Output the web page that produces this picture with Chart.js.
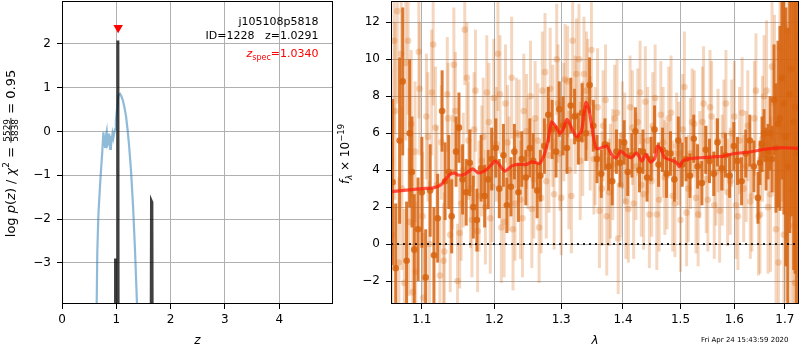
<!DOCTYPE html>
<html>
<head>
<meta charset="utf-8">
<script src="https://cdn.jsdelivr.net/npm/chart.js@4.4.0/dist/chart.umd.min.js"></script>
<style>
  body { margin: 0; background: #fff; }
  #wrap { position: relative; width: 800px; height: 350px; }
  #pz { position: absolute; left: 0; top: 0; }
  #spec { position: absolute; left: 335px; top: 0; }
</style>
</head>
<body>
<div id="wrap">
  <canvas id="pz" width="335" height="350"></canvas>
  <canvas id="spec" width="465" height="350"></canvas>
</div>
<script>
// ---- left panel: log p(z) ----
const zTicks = [0, 1, 2, 3, 4];
const logpTicks = [-3, -2, -1, 0, 1, 2];

const blueZ = [0.62, 0.639, 0.650, 0.670, 0.700, 0.720, 0.740, 0.762, 0.775, 0.792,
  0.808, 0.823, 0.838, 0.853, 0.868, 0.884, 0.900, 0.915, 0.930, 0.945,
  0.960, 0.976, 0.992, 1.007, 1.022, 1.037, 1.052, 1.068, 1.095, 1.123,
  1.150, 1.179, 1.207, 1.234, 1.271, 1.308, 1.344, 1.381, 1.40];
const blueLogP = [-6, -3.94, -2.75, -1.9, -1.24, -0.85, -0.5, -0.02, -0.2, -0.35,
  -0.1, 0.0, -0.3, -0.25, -0.05, -0.4, -0.1, -0.2, -0.05, -0.15,
  -0.05, 0.05, 0.25, 0.44, 0.62, 0.81, 0.85, 0.86, 0.8, 0.7,
  0.55, 0.35, 0.05, -0.3, -0.9, -1.7, -2.7, -3.94, -5];

const spike1Z = [0.978, 0.983, 0.988, 1.020, 1.029, 1.036];
const spike1LogP = [-8, -2.9, -8, -8, 2.08, -8];
const spike2Z = [1.635, 1.648, 1.655, 1.668];
const spike2LogP = [-8, -1.6, -1.62, -8];

const zSpec = 1.034;
const zSpecMarkY = 2.37;

// ---- right panel: spectrum ----
const lamTicks = [1.1, 1.2, 1.3, 1.4, 1.5, 1.6, 1.7];
const fluxTicks = [-2, 0, 2, 4, 6, 8, 10, 12];

const darkLam = [1.062, 1.066, 1.071, 1.075, 1.080, 1.084, 1.087, 1.090, 1.095, 1.100,
  1.105, 1.111, 1.116, 1.121, 1.127, 1.131, 1.136, 1.140, 1.146, 1.150,
  1.155, 1.160, 1.165, 1.170, 1.175, 1.181, 1.186, 1.191, 1.196, 1.202,
  1.207, 1.213, 1.218, 1.224, 1.229, 1.235, 1.240, 1.246, 1.252, 1.257,
  1.263, 1.268, 1.274, 1.280, 1.286, 1.292, 1.297, 1.303, 1.309, 1.315,
  1.321, 1.327, 1.333, 1.339, 1.345, 1.351, 1.357, 1.364, 1.370, 1.376,
  1.382, 1.389, 1.395, 1.402, 1.408, 1.415, 1.421, 1.428, 1.434, 1.441,
  1.448, 1.454, 1.461, 1.468, 1.475, 1.482, 1.489, 1.496, 1.503, 1.510,
  1.517, 1.524, 1.531, 1.539, 1.546, 1.553, 1.561, 1.568, 1.576, 1.583,
  1.591, 1.599, 1.606, 1.614, 1.622, 1.630, 1.638, 1.646, 1.654, 1.662,
  1.670, 1.678, 1.686, 1.694, 1.702, 1.710, 1.718, 1.724];
const darkFlux = [3.35, -1.3, 5.6, 8.8, -0.9, 6.0, 3.9, -0.3, 0.8, 2.8,
  -1.8, 2.9, -0.6, 1.4, 7.2, 3.4, 3.9, 1.5, 5.0, 6.3,
  3.5, 2.8, 4.4, 2.0, 1.3, 4.1, 2.6, 3.5, 4.6, 5.2,
  3.0, 4.8, 2.1, 3.1, 5.0, 2.8, 4.6, 3.6, 5.2, 4.5,
  2.9, 3.7, 5.3, 7.0, 6.2, 5.0, 7.3, 6.4, 5.2, 7.5,
  6.9, 5.7, 7.1, 6.0, 8.6, 6.4, 4.6, 3.8, 5.4, 4.2,
  3.4, 5.0, 4.4, 5.5, 3.9, 4.8, 6.1, 4.0, 5.0, 3.6,
  4.6, 6.2, 4.3, 5.1, 3.8, 4.9, 3.5, 5.6, 4.3, 4.6,
  3.7, 5.7, 4.2, 3.3, 5.1, 4.5, 3.8, 5.5, 4.1, 4.8,
  3.7, 5.3, 4.5, 3.4, 4.9, 5.6, 4.2, 2.5, 5.4, 4.6,
  6.0, 7.8, 6.5, 9.0, 5.8, 8.1, 6.6, 4.9];
const darkErr = [4.5, 3.5, 4.5, 4.0, 3.2, 4.0, 3.0, 3.0, 2.8, 3.0,
  2.6, 2.5, 2.6, 2.4, 2.2, 2.1, 2.0, 2.0, 1.9, 1.9,
  1.9, 1.8, 1.8, 1.7, 1.7, 1.8, 1.7, 1.6, 1.7, 1.6,
  1.6, 1.7, 1.5, 1.6, 1.5, 1.6, 1.5, 1.5, 1.6, 1.5,
  1.5, 1.4, 1.5, 1.5, 1.6, 1.4, 1.5, 1.6, 1.4, 1.5,
  1.5, 1.4, 1.6, 1.5, 1.5, 1.4, 1.3, 1.3, 1.4, 1.3,
  1.3, 1.2, 1.3, 1.2, 1.3, 1.2, 1.3, 1.2, 1.2, 1.3,
  1.2, 1.3, 1.2, 1.2, 1.3, 1.2, 1.2, 1.3, 1.2, 1.2,
  1.2, 1.3, 1.2, 1.2, 1.3, 1.2, 1.2, 1.3, 1.2, 1.2,
  1.2, 1.3, 1.3, 1.3, 1.3, 1.4, 1.4, 1.4, 1.5, 1.7,
  2.0, 3.0, 4.5, 5.5, 7.0, 7.5, 8.0, 9.0];

// second (dark) spectrum only covers the red end
const darkLamB = [1.650, 1.658, 1.666, 1.674, 1.682, 1.690, 1.698, 1.706, 1.714, 1.721];
const darkFluxB = [4.4, 6.0, 5.0, 4.6, 5.2, 6.8, 7.6, 4.2, 9.5, 7.4];
const darkErrB = [1.2, 1.3, 1.5, 1.8, 3.5, 5.0, 6.0, 7.5, 8.0, 9.0];

const lightLam = [1.060, 1.064, 1.068, 1.073, 1.077, 1.082, 1.086, 1.092, 1.097, 1.102,
  1.108, 1.113, 1.118, 1.124, 1.129, 1.134, 1.138, 1.143, 1.148, 1.153,
  1.158, 1.163, 1.168, 1.173, 1.178, 1.184, 1.189, 1.194, 1.199, 1.205,
  1.210, 1.216, 1.221, 1.227, 1.232, 1.238, 1.243, 1.249, 1.255, 1.260,
  1.266, 1.271, 1.277, 1.283, 1.289, 1.295, 1.300, 1.306, 1.312, 1.318,
  1.324, 1.330, 1.336, 1.342, 1.348, 1.354, 1.361, 1.367, 1.373, 1.379,
  1.386, 1.392, 1.399, 1.405, 1.412, 1.418, 1.425, 1.431, 1.438, 1.445,
  1.451, 1.458, 1.465, 1.472, 1.479, 1.486, 1.493, 1.500, 1.507, 1.514,
  1.521, 1.528, 1.535, 1.542, 1.550, 1.557, 1.565, 1.572, 1.580, 1.587,
  1.595, 1.603, 1.610, 1.618, 1.626, 1.634, 1.642, 1.650, 1.658, 1.666,
  1.674, 1.682, 1.690, 1.698, 1.706, 1.714, 1.721, 1.727];
const lightFlux = [4.5, 11.0, 12.6, 10.3, -2.1, 11.0, 6.5, -1.5, 8.4, -2.9,
  5.8, 8.2, 6.3, -1.7, -0.9, 8.1, 0.5, 9.7, -2.0, 2.2,
  11.6, 5.6, 1.3, 8.3, 2.6, 5.8, 8.2, 1.4, 7.9, 10.3,
  0.9, 7.6, 3.8, 0.8, 6.0, 2.4, 7.2, 4.9, 1.9, 6.8,
  0.9, 8.3, 3.4, 8.4, 2.7, 7.6, 2.5, 8.9, 4.0, 11.0,
  9.2, 4.5, 9.2, 7.8, 10.5, 5.3, 1.8, 6.4, 1.5, 3.4,
  6.8, 0.3, 5.9, 2.3, 7.4, 2.2, 6.6, 3.2, 7.7, 1.6,
  6.4, 1.6, 7.0, 3.6, 6.8, 2.6, 5.3, 1.3, 8.5, 3.0,
  6.6, 2.5, 4.3, 7.6, 2.4, 6.9, 3.9, 1.8, 5.9, 2.8,
  6.0, 2.1, 5.6, 3.0, 6.4, 2.6, 8.3, 1.6, 8.0, 2.0,
  9.6, 0.8, 10.6, 0.5, 11.5, 2.9, -2.1, 11.2];
const lightErr = [5.0, 5.0, 5.0, 4.5, 4.0, 4.0, 4.0, 3.8, 3.6, 3.5,
  3.5, 3.4, 3.3, 3.2, 3.1, 3.1, 3.1, 3.1, 3.1, 3.1,
  3.0, 3.2, 3.1, 3.3, 3.0, 3.2, 3.1, 3.0, 3.2, 3.1,
  3.0, 3.2, 3.1, 3.3, 3.0, 3.2, 3.1, 3.0, 3.2, 3.1,
  3.0, 3.2, 3.1, 3.3, 3.0, 3.2, 3.1, 3.0, 3.2, 3.1,
  3.0, 3.2, 3.1, 3.3, 3.0, 3.2, 3.1, 3.0, 3.2, 3.1,
  2.9, 3.0, 2.9, 3.1, 2.8, 3.0, 2.9, 2.8, 3.0, 2.9,
  2.9, 3.0, 2.9, 3.1, 2.8, 3.0, 2.9, 2.8, 3.0, 2.9,
  2.9, 3.0, 2.9, 3.1, 2.8, 3.0, 2.9, 2.8, 3.0, 2.9,
  2.9, 2.9, 2.9, 2.9, 3.0, 3.0, 3.1, 3.2, 3.3, 3.6,
  4.0, 4.5, 5.0, 6.0, 7.0, 8.0, 8.0, 8.0];

const lightLamB = [1.061, 1.065, 1.070, 1.074, 1.079, 1.083, 1.088, 1.091, 1.096, 1.101,
  1.106, 1.110, 1.115, 1.120, 1.126, 1.130, 1.135, 1.141, 1.145, 1.151,
  1.156, 1.161, 1.166, 1.171, 1.176, 1.182, 1.187, 1.192, 1.197, 1.203,
  1.208, 1.214, 1.219, 1.225, 1.230, 1.236, 1.241, 1.247, 1.253, 1.258,
  1.264, 1.269, 1.275, 1.281, 1.287, 1.293, 1.298, 1.304, 1.310, 1.316,
  1.322, 1.328, 1.334, 1.340, 1.346, 1.352, 1.358, 1.365, 1.371, 1.377,
  1.383, 1.390, 1.396, 1.403, 1.409, 1.416, 1.422, 1.429, 1.435, 1.442,
  1.449, 1.455, 1.462, 1.469, 1.476, 1.483, 1.490, 1.497, 1.504, 1.511,
  1.518, 1.525, 1.532, 1.540, 1.547, 1.554, 1.562, 1.569, 1.577, 1.584,
  1.592, 1.600, 1.607, 1.615, 1.623, 1.631, 1.639, 1.647, 1.655, 1.663,
  1.671, 1.679, 1.687, 1.695, 1.703, 1.711, 1.719, 1.725];
const lightFluxB = [0.5, 7.2, -1.0, 3.0, 9.8, 1.2, -2.6, 5.0, 10.4, 1.5,
  6.9, 0.0, 10.8, 3.2, 5.5, -0.4, 6.8, 3.9, 7.2, 0.6,
  4.0, 9.0, 3.0, 6.2, 0.7, 4.5, 2.0, 6.6, 3.1, 5.4,
  8.1, 1.2, 5.5, 9.0, 2.2, 5.9, 1.4, 6.1, 8.0, 3.5,
  5.6, 2.5, 9.3, 4.8, 6.4, 10.0, 4.9, 6.6, 8.8, 2.6,
  7.0, 10.0, 5.7, 8.3, 6.0, 4.6, 7.4, 3.0, 7.8, 2.8,
  4.3, 7.1, 3.2, 5.2, 1.9, 6.3, 4.2, 8.2, 2.7, 5.6,
  3.4, 7.9, 2.4, 5.5, 3.7, 7.1, 2.2, 4.9, 6.2, 1.7,
  4.9, 6.5, 1.6, 6.6, 3.5, 7.4, 2.1, 5.6, 4.0, 7.6,
  3.4, 6.9, 1.5, 7.1, 4.2, 2.3, 6.8, 1.5, 5.7, 8.3,
  2.7, 7.6, -1.0, 8.8, 4.4, 9.4, 1.0, 6.2];
const lightErrB = [5.0, 4.8, 4.6, 4.4, 4.2, 4.0, 3.9, 3.8, 3.6, 3.5,
  3.4, 3.4, 3.3, 3.2, 3.1, 3.2, 3.0, 3.1, 3.2, 3.0,
  3.1, 3.0, 3.2, 3.1, 3.3, 3.0, 3.1, 3.2, 3.0, 3.1,
  3.2, 3.0, 3.1, 3.3, 3.1, 3.0, 3.2, 3.1, 3.0, 3.2,
  3.1, 3.0, 3.2, 3.1, 3.3, 3.0, 3.1, 3.2, 3.0, 3.1,
  3.2, 3.0, 3.1, 3.2, 3.1, 3.0, 3.2, 3.1, 3.0, 2.9,
  3.0, 2.9, 2.8, 3.0, 2.9, 3.1, 2.9, 2.8, 3.0, 2.9,
  3.0, 2.9, 2.8, 3.0, 2.9, 3.1, 2.9, 2.8, 3.0, 2.9,
  3.0, 2.9, 2.8, 3.0, 2.9, 3.1, 2.9, 2.8, 3.0, 2.9,
  2.9, 3.0, 2.9, 3.0, 3.0, 3.1, 3.1, 3.2, 3.4, 3.8,
  4.2, 4.8, 5.5, 6.5, 7.5, 8.0, 8.0, 8.0];

const modelLam = [1.060, 1.100, 1.115, 1.126, 1.135, 1.143, 1.149, 1.158, 1.169, 1.177,
  1.189, 1.201, 1.205, 1.215, 1.225, 1.235, 1.247, 1.255, 1.262, 1.267,
  1.275, 1.280, 1.285, 1.291, 1.298, 1.303, 1.309, 1.316, 1.324, 1.332,
  1.339, 1.344, 1.351, 1.356, 1.364, 1.373, 1.381, 1.389, 1.396, 1.403,
  1.414, 1.423, 1.432, 1.439, 1.447, 1.455, 1.459, 1.465, 1.472, 1.484,
  1.493, 1.498, 1.504, 1.517, 1.535, 1.560, 1.579, 1.600, 1.630, 1.656,
  1.690, 1.729];
const modelFlux = [2.84, 3.0, 3.04, 3.22, 3.67, 3.85, 3.73, 3.78, 4.07, 3.85,
  4.04, 4.49, 4.4, 3.95, 4.22, 4.31, 4.31, 4.45, 4.4, 4.36,
  4.94, 5.66, 6.6, 6.39, 5.99, 6.21, 6.75, 6.3, 5.81, 6.12,
  7.66, 7.29, 5.85, 5.16, 5.21, 5.3, 4.85, 4.67, 5.03, 4.85,
  4.67, 4.94, 4.49, 4.85, 4.43, 4.67, 5.3, 5.16, 4.67, 4.54,
  4.4, 4.18, 4.49, 4.62, 4.67, 4.72, 4.76, 4.9, 4.98, 5.12,
  5.21, 5.18];
const zeroLam = [1.06, 1.729];
const zeroFlux = [0, 0];

const FONT = 'DejaVu Sans';
Chart.defaults.font.family = FONT;
Chart.defaults.font.size = 12;
Chart.defaults.color = '#000';

const DARK = 'rgba(215,100,15,0.85)';
const LIGHT = 'rgba(217,95,2,0.25)';

const pts = (xs, ys) => xs.map((x, i) => ({ x: x, y: ys[i] }));
const fmt = v => (v < 0 ? '\u2212' + Math.abs(v) : String(v));
const setTicks = list => scale => { scale.ticks = list.map(v => ({ value: v })); };

function drawRuns(ctx, runs, x, y, align) {
  let w = 0;
  runs.forEach(r => {
    ctx.font = r.font;
    r.w = r.frac ? Math.max(ctx.measureText(r.frac[0]).width, ctx.measureText(r.frac[1]).width) + 2 : ctx.measureText(r.t).width;
    w += r.w;
  });
  let cx = align === 'right' ? x - w : align === 'center' ? x - w / 2 : x;
  ctx.textBaseline = 'alphabetic';
  ctx.textAlign = 'left';
  runs.forEach(r => {
    ctx.font = r.font;
    ctx.fillStyle = r.color || '#000';
    if (r.frac) {
      const w0 = ctx.measureText(r.frac[0]).width, w1 = ctx.measureText(r.frac[1]).width;
      ctx.fillText(r.frac[0], cx + (r.w - w0) / 2, y - 4.8);
      ctx.fillText(r.frac[1], cx + (r.w - w1) / 2, y + 3.6);
      ctx.fillRect(cx, y - 4, r.w, 0.8);
    } else {
      ctx.fillText(r.t, cx, y + (r.dy || 0));
    }
    cx += r.w;
  });
}

const frame = {
  id: 'frame',
  afterDraw(chart) {
    const { ctx, chartArea: a } = chart;
    ctx.save();
    ctx.strokeStyle = '#000';
    ctx.lineWidth = 1;
    ctx.strokeRect(Math.round(a.left) + 0.5, Math.round(a.top) + 0.5, Math.round(a.right - a.left) - 1, Math.round(a.bottom - a.top) - 1);
    ctx.restore();
  }
};

const errorBars = {
  id: 'errorBars',
  beforeDatasetDraw(chart, args) {
    const ds = chart.data.datasets[args.index];
    if (!ds.errors) return;
    const { ctx, chartArea: a } = chart;
    const ys = chart.scales.y;
    ctx.save();
    ctx.beginPath();
    ctx.rect(a.left, a.top, a.right - a.left, a.bottom - a.top);
    ctx.clip();
    ctx.strokeStyle = ds.errorColor;
    ctx.lineWidth = 3;
    args.meta.data.forEach((pt, i) => {
      const v = ds.data[i].y, e = ds.errors[i];
      ctx.beginPath();
      ctx.moveTo(pt.x, ys.getPixelForValue(v - e));
      ctx.lineTo(pt.x, ys.getPixelForValue(v + e));
      ctx.stroke();
    });
    ctx.restore();
  }
};

const pzText = {
  id: 'pzText',
  afterDraw(chart) {
    const ctx = chart.ctx;
    ctx.save();
    drawRuns(ctx, [{ t: 'j105108p5818', font: '11px ' + FONT }], 318.5, 25, 'right');
    drawRuns(ctx, [{ t: 'ID=1228   z=1.0291', font: '11px ' + FONT }], 318.5, 38.5, 'right');
    drawRuns(ctx, [
      { t: 'z', font: 'italic 11px ' + FONT, color: '#ff0000' },
      { t: 'spec', font: '8px ' + FONT, color: '#ff0000', dy: 2.5 },
      { t: '=1.0340', font: '11px ' + FONT, color: '#ff0000' }
    ], 318.5, 57, 'right');
    drawRuns(ctx, [{ t: 'z', font: 'italic 12px ' + FONT }], 197.5, 344, 'center');
    ctx.translate(14.5, 153.5);
    ctx.rotate(-Math.PI / 2);
    drawRuns(ctx, [
      { t: 'log ', font: '13px ' + FONT },
      { t: 'p', font: 'italic 13px ' + FONT },
      { t: '(', font: '13px ' + FONT },
      { t: 'z', font: 'italic 13px ' + FONT },
      { t: ') / ', font: '13px ' + FONT },
      { t: '\u03c7', font: 'italic 13px ' + FONT },
      { t: '2', font: '9px ' + FONT, dy: -5.5 },
      { t: ' = ', font: '13px ' + FONT },
      { frac: ['5529', '5838'], font: '9px ' + FONT },
      { t: ' = 0.95', font: '13px ' + FONT }
    ], 0, 0, 'center');
    ctx.restore();
  }
};

const specText = {
  id: 'specText',
  afterDraw(chart) {
    const ctx = chart.ctx;
    ctx.save();
    drawRuns(ctx, [{ t: '\u03bb', font: 'italic 12px ' + FONT }], 260, 344, 'center');
    drawRuns(ctx, [{ t: 'Fri Apr 24 15:43:59 2020', font: '7px ' + FONT }], 366, 342, 'left');
    ctx.translate(14, 154);
    ctx.rotate(-Math.PI / 2);
    drawRuns(ctx, [
      { t: 'f', font: 'italic 12px ' + FONT },
      { t: '\u03bb', font: 'italic 8.5px ' + FONT, dy: 3 },
      { t: ' \u00d7 10', font: '12px ' + FONT },
      { t: '\u221219', font: '8.5px ' + FONT, dy: -5 }
    ], 0, 0, 'center');
    ctx.restore();
  }
};

function axisX(opts) {
  return Object.assign({
    grid: { color: '#b0b0b0', lineWidth: 1, tickColor: '#000', tickLength: 5 },
    border: { display: false },
    ticks: { color: '#000', padding: 4, maxRotation: 0, autoSkip: false, font: { size: 12 } },
    afterFit: s => { s.height = 46; s.paddingLeft = 0; s.paddingRight = 0; }
  }, opts);
}
function axisY(width, opts) {
  return Object.assign({
    grid: { color: '#b0b0b0', lineWidth: 1, tickColor: '#000', tickLength: 5 },
    border: { display: false },
    ticks: { color: '#000', padding: 6, autoSkip: false, font: { size: 12 }, callback: v => fmt(v) },
    afterFit: s => { s.width = width; s.paddingTop = 0; s.paddingBottom = 0; }
  }, opts);
}

function errSet(xs, ys, errs, color, radius, order) {
  return { data: pts(xs, ys), errors: errs, errorColor: color, pointRadius: radius, backgroundColor: color, borderWidth: 0, clip: 0, order: order };
}

new Chart(document.getElementById('pz'), {
  type: 'scatter',
  data: {
    datasets: [
      { type: 'line', data: pts(blueZ, blueLogP), borderColor: 'rgba(31,119,180,0.5)', borderWidth: 2.2, pointRadius: 0, clip: 0, order: 3 },
      { type: 'line', data: pts(spike1Z, spike1LogP), borderColor: 'rgba(0,0,0,0.75)', borderWidth: 3, pointRadius: 0, clip: 0, order: 2 },
      { type: 'line', data: pts(spike2Z, spike2LogP), borderColor: 'rgba(0,0,0,0.75)', borderWidth: 3, pointRadius: 0, clip: 0, order: 2 },
      { data: [{ x: zSpec, y: zSpecMarkY }], pointStyle: 'triangle', rotation: 180, pointRadius: 5.5, backgroundColor: '#ff0000', borderWidth: 0, order: 0 }
    ]
  },
  options: {
    responsive: false,
    animation: false,
    devicePixelRatio: 1,
    layout: { autoPadding: false, padding: { left: 0, right: 2, top: 1, bottom: 0 } },
    plugins: { legend: { display: false }, tooltip: { enabled: false } },
    scales: {
      x: axisX({ type: 'linear', min: 0, max: 4.99, afterBuildTicks: setTicks(zTicks) }),
      y: axisY(62, { type: 'linear', min: -3.94, max: 2.98, afterBuildTicks: setTicks(logpTicks) })
    }
  },
  plugins: [frame, pzText]
});

new Chart(document.getElementById('spec'), {
  type: 'scatter',
  data: {
    datasets: [
      { type: 'line', data: pts(zeroLam, zeroFlux), borderColor: 'rgba(0,0,0,0.85)', borderWidth: 2, borderDash: [2, 4], pointRadius: 0, clip: 0, order: 0 },
      { type: 'line', data: pts(modelLam, modelFlux), borderColor: 'rgba(255,30,15,0.75)', borderWidth: 3.2, tension: 0.25, pointRadius: 0, clip: 0, order: 1 },
      errSet(darkLam, darkFlux, darkErr, DARK, 3.3, 2),
      errSet(darkLamB, darkFluxB, darkErrB, DARK, 3.3, 3),
      errSet(lightLam, lightFlux, lightErr, LIGHT, 3.3, 4),
      errSet(lightLamB, lightFluxB, lightErrB, LIGHT, 3.3, 5)
    ]
  },
  options: {
    responsive: false,
    animation: false,
    devicePixelRatio: 1,
    layout: { autoPadding: false, padding: { left: 0, right: 1, top: 1, bottom: 0 } },
    plugins: { legend: { display: false }, tooltip: { enabled: false } },
    scales: {
      x: axisX({ type: 'logarithmic', min: 1.06, max: 1.729, z: 1, afterBuildTicks: setTicks(lamTicks),
        ticks: { color: '#000', padding: 4, maxRotation: 0, autoSkip: false, font: { size: 12 }, callback: v => Number(v).toFixed(1) } }),
      y: axisY(56, { type: 'linear', min: -3.24, max: 13.15, z: 1, afterBuildTicks: setTicks(fluxTicks) })
    }
  },
  plugins: [errorBars, frame, specText]
});
</script>
</body>
</html>
